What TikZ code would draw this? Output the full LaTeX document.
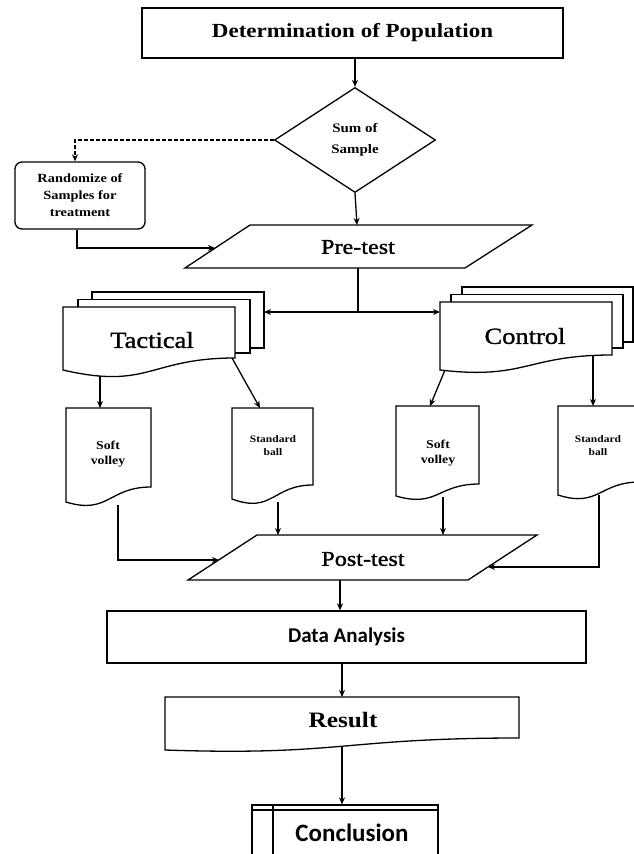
\documentclass[tikz,border=0pt]{standalone}
\usepackage{fontspec}
\setmainfont{Liberation Serif}[FakeStretch=1.15]
\newfontfamily\medfont{Liberation Serif}[FakeStretch=1.15,FakeBold=1.3]
\newfontfamily\calfont{Carlito}
\usetikzlibrary{shapes.geometric,arrows.meta,calc}

% document symbol: x1, x2, top, right-bottom y, left-bottom y, lower control y
\newcommand\docsym[6]{%
  \draw[fill=white] (#1,#3) -- (#2,#3) -- (#2,#4)
    .. controls ({(#1+#2)/2},#4) and ({(#1+#2)/2},#6) .. (#1,#5) -- cycle;}

\begin{document}
\begin{tikzpicture}[x=1pt,y=-1pt,line width=1.3pt,
  >={Stealth[length=7pt,width=6pt]},
  box/.style={draw,fill=white,inner sep=0pt},
  lbl/.style={inner sep=0pt,align=center},
  link/.style={->},
  dashlink/.style={->,dash pattern=on 4pt off 2pt}]
\useasboundingbox[fill=white] (0,0) rectangle (633,854);

% ---- top of the flow ----
\node[box,minimum width=421pt,minimum height=50pt,
  font=\fontsize{20}{24}\selectfont\bfseries] (pop) at (352.5,33)
  {Determination of Population};

\node[draw,diamond,fill=white,minimum width=161pt,minimum height=105pt,
  inner sep=0pt,align=center,font=\fontsize{13}{21}\selectfont\bfseries]
  (sum) at (355,140) {Sum of\\Sample};

\node[draw,rounded corners=7pt,minimum width=130pt,minimum height=67pt,
  lbl,font=\fontsize{12.5}{17}\selectfont\bfseries] (rand) at (80,195.5)
  {Randomize of\\Samples for\\treatment};

% ---- pre-test ----
\draw[fill=white] (185,268) -- (465,268) -- (532,225) -- (250,225) -- cycle;
\node[lbl,font=\fontsize{21}{24}\medfont] (pre) at (358,247) {Pre-test};
\coordinate (preT) at (357,225);
\coordinate (preB) at (358,268);
\coordinate (preL) at (215,248);
\coordinate (split) at (358,312);

% ---- Tactical (stacked documents) ----
\draw[fill=white] (92,292) rectangle (264,348);
\draw[fill=white] (78,299.5) rectangle (250,353);
\docsym{63}{235}{307}{358}{370}{390}
\node[lbl,font=\fontsize{23}{26}\medfont] (tac) at (152,340) {Tactical};
\coordinate (tacR) at (264,312);
\coordinate (tacB1) at (100,376);
\coordinate (tacB2) at (232,358);

% ---- Control (stacked documents) ----
\draw[fill=white] (462,287) rectangle (633,342);
\draw[fill=white] (451,294.5) rectangle (623,348);
\docsym{440}{612}{302}{355}{370}{380}
\node[lbl,font=\fontsize{23}{26}\medfont] (con) at (525,336) {Control};
\coordinate (conL) at (440,312);
\coordinate (conB1) at (445,370);
\coordinate (conB2) at (593,356);

% ---- ball types ----
\docsym{66}{151}{408}{487}{502}{515}
\node[lbl,font=\fontsize{12}{15}\selectfont\bfseries] (sv1) at (108,454) {Soft\\volley};
\docsym{232}{313}{408}{485}{499}{514}
\node[lbl,font=\fontsize{10}{13}\selectfont\bfseries] (sb1) at (273,446) {Standard\\ball};
\docsym{396}{479}{406}{484}{496}{508}
\node[lbl,font=\fontsize{12}{15}\selectfont\bfseries] (sv2) at (438,453) {Soft\\volley};
\docsym{558}{640}{406}{482}{495}{508}
\node[lbl,font=\fontsize{10}{13}\selectfont\bfseries] (sb2) at (598,446) {Standard\\ball};

\coordinate (sv1T) at (100,408);
\coordinate (sb1T) at (260,408);
\coordinate (sv2T) at (430,406);
\coordinate (sb2T) at (593,406);
\coordinate (sv1B) at (118,505);
\coordinate (sb1B) at (278,502);
\coordinate (sv2B) at (443,497);
\coordinate (sb2B) at (599,495);

% ---- post-test ----
\draw[fill=white] (188,580) -- (468,580) -- (537,535) -- (257,535) -- cycle;
\node[lbl,font=\fontsize{21}{24}\medfont] (post) at (363,559) {Post-test};
\coordinate (postL) at (219,560);
\coordinate (postR) at (488,567);
\coordinate (postT1) at (278,535);
\coordinate (postT2) at (443,535);
\coordinate (postB) at (340,580);

% ---- analysis, result, conclusion ----
\node[box,minimum width=479pt,minimum height=52pt,
  font=\calfont\fontsize{21}{24}\selectfont\bfseries] (data) at (346.5,637)
  {Data Analysis};

\docsym{165}{519}{697}{738}{750}{756}
\node[lbl,font=\fontsize{22}{26}\selectfont\bfseries] (res) at (343,720) {Result};
\coordinate (resT) at (342,697);
\coordinate (resB) at (342,746);

\node[box,minimum width=186pt,minimum height=80pt] (conc) at (345,845) {};
\draw (273,805) -- (273,870);
\draw (252,810) -- (438,810);
\node[lbl,font=\calfont\fontsize{25}{28}\selectfont\bfseries] (concl) at (352,833)
  {Conclusion};

% ---- connectors ----
\draw[link] (pop.south -| sum.north) -- (sum.north);
\draw[link] (sum.south) -- (preT);
\draw[dashlink] (sum.west) -| ([xshift=-5pt]rand.north);
\draw[link] ([xshift=-3pt]rand.south) |- (preL);
\draw (preB) -- (split);
\draw[link] (split) -- (tacR);
\draw[link] (split) -- (conL);
\draw[link] (tacB1) -- (sv1T);
\draw[link] (tacB2) -- (sb1T);
\draw[link] (conB1) -- (sv2T);
\draw[link] (conB2) -- (sb2T);
\draw[link] (sv1B) |- (postL);
\draw[link] (sb1B) -- (postT1);
\draw[link] (sv2B) -- (postT2);
\draw[link] (sb2B) |- (postR);
\draw[link] (postB) -- (postB |- data.north);
\draw[link] (data.south -| resT) -- (resT);
\draw[link] (resB) -- (resB |- conc.north);
\end{tikzpicture}
\end{document}
